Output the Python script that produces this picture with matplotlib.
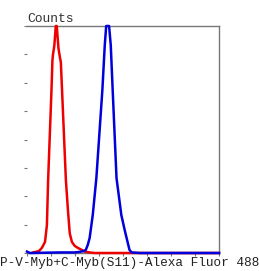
import numpy as np
import matplotlib
matplotlib.use('Agg')
import matplotlib.pyplot as plt

# histogram outlines, channel units (0..8) vs counts (0..8 grid units)
red_x = [0.25, 0.41, 0.50, 0.62, 0.75, 0.83, 0.88, 1.02, 1.06, 1.08, 1.14, 1.20, 1.24,
         1.31, 1.37, 1.41, 1.46, 1.62, 1.70, 1.78, 1.87, 1.99, 2.12, 2.28, 2.41, 2.61,
         2.82, 8.0]
red_y = [0.02, 0.05, 0.07, 0.18, 0.39, 0.99, 2.57, 5.74, 6.80, 6.97, 7.32, 8.00, 8.00,
         7.22, 6.90, 6.73, 5.74, 2.57, 1.58, 0.70, 0.39, 0.25, 0.18, 0.11, 0.05, 0.02,
         0.00, 0.00]

blue_x = [0.00, 0.12, 1.37, 1.99, 2.20, 2.37, 2.45, 2.53, 2.61, 2.74, 2.89, 3.14, 3.24,
          3.30, 3.42, 3.49, 3.57, 3.73, 3.93, 4.07, 4.15, 4.27, 4.36, 4.69, 8.0]
blue_y = [0.05, 0.00, 0.02, 0.02, 0.04, 0.07, 0.11, 0.28, 0.53, 1.34, 2.64, 5.74, 7.32,
          8.00, 8.00, 7.32, 5.74, 2.64, 1.34, 0.81, 0.53, 0.11, 0.02, 0.00, 0.00]

xticks = np.arange(0, 9)
yticks = np.arange(0, 9)

plt.rcParams['font.family'] = ['Liberation Mono', 'DejaVu Sans Mono']

fig = plt.figure(figsize=(2.59, 2.71), dpi=100)
ax = fig.add_axes([27/259, 18/271, 192/259, 227/271])

ax.plot(red_x, red_y, color='#ee0000', lw=1.8, zorder=3, clip_on=False)
ax.plot(blue_x, blue_y, color='#0000dd', lw=1.8, zorder=4, clip_on=False)

ax.set_xlim(0, 8)
ax.set_ylim(0, 8)
ax.set_xticks(xticks)
ax.set_yticks(yticks)
ax.set_xticklabels([])
ax.set_yticklabels([])
ax.tick_params(length=2, width=0.8, color='#777777', direction='out')
ax.spines['left'].set_visible(False)
for s in ['top', 'right', 'bottom']:
    ax.spines[s].set_color('#777777')
    ax.spines[s].set_linewidth(1.0)

ax.text(0, 1.004, 'Counts', transform=ax.transAxes, ha='left', va='bottom',
        fontsize=9.4, color='#333333')
fig.text(0.5, 8/271, 'P-V-Myb+C-Myb(S11)-Alexa Fluor 488', ha='center', va='center',
         fontsize=9.2, color='#222222')

plt.savefig('out.png', dpi=100)
